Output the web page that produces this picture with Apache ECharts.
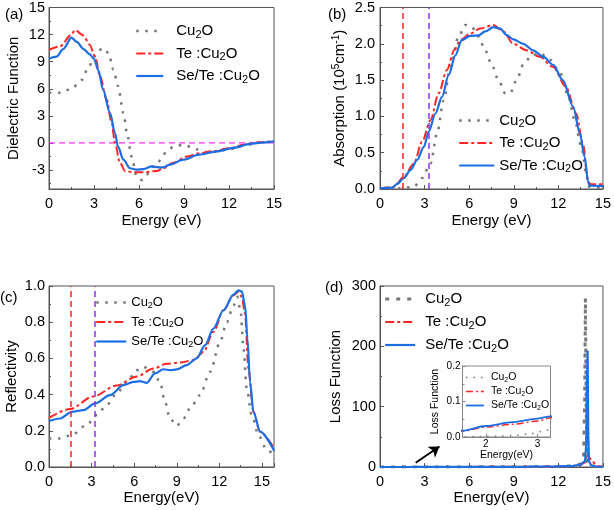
<!DOCTYPE html>
<html><head><meta charset="utf-8">
<script src="https://cdn.jsdelivr.net/npm/echarts@6/dist/echarts.min.js"></script>
<style>html,body{margin:0;padding:0;background:#fff}#c{width:614px;height:510px}</style>
</head><body><div id="c"></div><script>
// ---------- data ----------
const seriesNames = ['Cu2O', 'Te :Cu2O', 'Se/Te :Cu2O'];
const bandEdges = [1.55, 3.25];
const energyRange = [0, 15];
const zeroLevel = 0;
const dielTicks = [-3, 0, 3, 6, 9, 12, 15];
const arrowFrom = [2.4, 7];
const arrowTo = [4.0, 34];

// (a) dielectric function
const dielE_cu = [0, 0.73, 1.5, 2.2, 2.6, 3.07, 3.55, 3.96, 4.3, 4.6, 4.96, 5.2, 5.5, 5.85, 6.2, 6.5, 7.2, 7.8, 8.3, 8.95, 9.4, 9.85, 10.5, 11.2, 12.0, 13.0, 14.0, 15.0];
const dielV_cu = [5.55, 5.55, 6.0, 7.0, 8.3, 9.6, 10.5, 10.0, 8.1, 6.3, 3.3, 1.1, -1.5, -3.7, -4.1, -3.5, -2.2, -1.1, -0.4, -0.2, -0.4, -0.7, -1.0, -0.95, -0.7, -0.3, 0.05, 0.15];
const dielE_te = [0, 0.73, 1.5, 1.73, 2.3, 2.7, 3.07, 3.4, 3.84, 4.18, 4.4, 4.73, 5.07, 5.6, 6.3, 7.2, 7.6, 8.3, 9.2, 10.0, 11.0, 12.0, 13.0, 14.0, 15.0];
const dielV_te = [10.3, 10.7, 12.0, 12.5, 11.9, 10.9, 9.6, 7.4, 4.8, 2.2, 0, -2.2, -3.1, -3.25, -3.25, -3.1, -2.8, -2.2, -1.5, -1.15, -0.9, -0.6, -0.2, 0.08, 0.18];
const dielE_se = [0, 0.5, 0.95, 1.5, 1.85, 2.3, 2.73, 3.0, 3.3, 3.6, 4.07, 4.4, 4.6, 4.96, 5.4, 5.85, 6.3, 6.84, 7.3, 7.6, 8.07, 8.96, 10.0, 11.2, 12.3, 13.4, 14.3, 15.0];
const dielV_se = [9.33, 9.55, 10.4, 11.67, 11.2, 10.4, 9.8, 9.3, 8.0, 5.9, 3.3, 1.1, -0.4, -1.85, -2.8, -2.96, -2.9, -2.6, -2.7, -2.7, -2.4, -1.85, -1.3, -0.93, -0.55, -0.1, 0.07, 0.18];

// (b) absorption (10^5 cm^-1)
const absE_cu = [0, 1.38, 2.28, 2.83, 3.4, 3.84, 4.28, 4.73, 5.29, 5.74, 6.18, 6.63, 7.08, 7.52, 7.97, 8.42, 8.75, 9.2, 9.64, 10.2, 10.76, 11.43, 12.1, 12.66, 13.1, 13.55, 13.88, 14.06, 15.0];
const absV_cu = [0, 0.01, 0.03, 0.15, 0.35, 0.77, 1.22, 1.68, 2.1, 2.26, 2.23, 2.1, 1.91, 1.71, 1.5, 1.32, 1.32, 1.5, 1.71, 1.84, 1.87, 1.78, 1.61, 1.29, 0.95, 0.58, 0.22, 0.03, 0.01];
const absE_te = [0, 0.94, 1.6, 2.28, 2.83, 3.4, 3.95, 4.5, 5.0, 5.4, 6.07, 6.74, 7.63, 8.3, 8.97, 9.87, 10.76, 11.65, 12.5, 13.2, 13.65, 14.0, 14.2, 15.0];
const absV_te = [0.01, 0.03, 0.17, 0.35, 0.65, 0.95, 1.32, 1.64, 1.91, 2.05, 2.14, 2.21, 2.26, 2.17, 2.0, 1.91, 1.82, 1.68, 1.41, 1.04, 0.63, 0.1, 0.065, 0.065];
const absE_se = [0, 0.83, 1.16, 1.6, 2.05, 2.5, 2.95, 3.28, 3.73, 4.17, 4.62, 5.07, 5.5, 6.07, 6.63, 7.08, 7.63, 8.08, 8.53, 8.97, 9.64, 10.3, 11.0, 11.65, 12.3, 13.0, 13.44, 13.77, 14.0, 14.1, 15.0];
const absV_se = [0.01, 0.02, 0.07, 0.15, 0.26, 0.4, 0.58, 0.79, 1.04, 1.27, 1.57, 1.84, 2.05, 2.11, 2.115, 2.17, 2.23, 2.21, 2.12, 2.06, 2.0, 1.91, 1.82, 1.71, 1.5, 1.13, 0.77, 0.44, 0.1, 0.046, 0.04];

// (c) reflectivity
const refE_cu = [0, 0.78, 1.6, 2.65, 3.36, 4.06, 4.77, 5.47, 6.18, 6.65, 7.35, 7.82, 8.17, 8.53, 9.0, 9.47, 9.94, 10.64, 11.35, 12.05, 12.52, 13.0, 13.27, 13.5, 13.7, 13.93, 14.28, 14.75, 15.34, 15.86];
const refV_cu = [0.158, 0.158, 0.176, 0.232, 0.287, 0.342, 0.406, 0.47, 0.535, 0.553, 0.526, 0.47, 0.36, 0.268, 0.228, 0.268, 0.324, 0.397, 0.526, 0.69, 0.80, 0.893, 0.94, 0.857, 0.654, 0.434, 0.287, 0.176, 0.094, 0.066];
const refE_te = [0, 1.48, 3.12, 4.77, 6.18, 7.35, 8.29, 9.23, 10.17, 10.88, 11.58, 12.29, 13.0, 13.34, 13.58, 13.81, 14.05, 14.4, 14.87, 15.86];
const refV_te = [0.272, 0.32, 0.39, 0.45, 0.50, 0.544, 0.57, 0.577, 0.59, 0.636, 0.746, 0.866, 0.949, 0.967, 0.94, 0.847, 0.544, 0.305, 0.195, 0.103];
const refE_se = [0, 0.78, 1.6, 2.42, 3.24, 4.3, 5.24, 5.94, 6.41, 6.88, 7.47, 8.06, 8.53, 9.0, 9.7, 10.4, 11.0, 11.58, 12.29, 13.0, 13.34, 13.58, 13.81, 13.98, 14.16, 14.4, 14.87, 15.86];
const refV_se = [0.254, 0.268, 0.305, 0.314, 0.351, 0.397, 0.452, 0.47, 0.474, 0.465, 0.517, 0.54, 0.535, 0.539, 0.563, 0.6, 0.673, 0.765, 0.866, 0.952, 0.976, 0.97, 0.893, 0.71, 0.47, 0.305, 0.195, 0.09];

// (d) loss function
const lossE_cu = [0, 1.55, 2.2, 2.6, 2.85, 3.1, 3.25, 4, 6, 8, 10, 12, 13, 13.5, 13.7, 13.77, 13.82, 13.87, 13.92, 14.0, 14.5, 15];
const lossV_cu = [0, 0, 0.002, 0.005, 0.009, 0.016, 0.022, 0.05, 0.2, 0.4, 0.6, 1.0, 2, 5, 15, 110, 280, 110, 15, 3, 0.5, 0.2];
const lossE_te = [0, 1.55, 2.0, 2.52, 3.0, 3.25, 4, 6, 8, 10, 12, 13, 13.5, 13.8, 13.9, 13.97, 14.05, 14.2, 14.35, 14.5, 14.65, 15];
const lossV_te = [0.005, 0.017, 0.028, 0.036, 0.045, 0.054, 0.07, 0.18, 0.3, 0.45, 0.8, 1.8, 3.5, 8, 18, 25, 17, 12, 8, 4, 1.5, 0.5];
const lossE_se = [0, 1.55, 2.0, 2.52, 3.0, 3.25, 4, 6, 8, 10, 12, 13, 13.5, 13.8, 13.88, 13.93, 13.97, 14.01, 14.06, 14.2, 14.5, 15];
const lossV_se = [0.005, 0.018, 0.031, 0.042, 0.052, 0.058, 0.08, 0.2, 0.35, 0.5, 0.9, 2, 4, 10, 40, 150, 193, 60, 10, 3, 0.8, 0.3];

// ---------- styles ----------
const FONT = '"Liberation Sans", Arial, sans-serif';
const AX = '#555';
const GRAY = '#777777', RED = '#ff2525', BLUE = '#1c6fe3', PURPLE = '#9030f0', MAGENTA = '#ff30ff';
const dotStyle = {color: GRAY, width: 2.5, type: [2.5, 6.5]};
const dashDot = {color: RED, width: 2, type: [9, 3, 3, 3]};
const solid = {color: BLUE, width: 2.2, type: 'solid'};
const grayDash = {color: GRAY, width: 3, type: [4, 7]};
const insetDot = {color: GRAY, width: 1.5, type: [1.5, 6]};
const insetDashDot = {color: RED, width: 1.5, type: [7, 3, 2, 3]};
const insetSolid = {color: BLUE, width: 1.8, type: 'solid'};

const pair = (E, V) => E.map((e, i) => [e, V[i]]);

function xAxis(g, o) {
  return Object.assign({
    type: 'value', gridIndex: g, min: 0, max: 15, interval: 3,
    axisLine: {show: true, onZero: false, lineStyle: {color: AX, width: 1}},
    axisTick: {show: true, inside: true, length: 4, lineStyle: {color: AX}},
    minorTick: {show: true, splitNumber: 2, length: 2, lineStyle: {color: AX}},
    splitLine: {show: false},
    axisLabel: {color: '#000', fontSize: 14.5, fontFamily: FONT, margin: 7},
    nameLocation: 'middle', nameGap: 23,
    nameTextStyle: {color: '#000', fontSize: 15, fontFamily: FONT}
  }, o);
}
function yAxis(g, o) {
  return Object.assign({
    type: 'value', gridIndex: g,
    axisLine: {show: true, onZero: false, lineStyle: {color: AX, width: 1}},
    axisTick: {show: true, inside: true, length: 4, lineStyle: {color: AX}},
    minorTick: {show: true, splitNumber: 2, length: 2, lineStyle: {color: AX}},
    splitLine: {show: false},
    axisLabel: {color: '#000', fontSize: 14.5, fontFamily: FONT, margin: 4},
    nameLocation: 'middle', nameGap: 30,
    nameTextStyle: {color: '#000', fontSize: 15, fontFamily: FONT}
  }, o);
}
function line(name, g, data, ls, extra) {
  return Object.assign({
    name, type: 'line', xAxisIndex: g, yAxisIndex: g, data,
    symbol: 'none', smooth: 0.3, smoothMonotone: 'x', color: ls.color,
    lineStyle: ls, z: 3, silent: true, animation: false
  }, extra || {});
}
const vLines = {
  silent: true, symbol: ['none', 'none'], label: {show: false}, animation: false,
  data: [
    {xAxis: bandEdges[0], lineStyle: {color: RED, type: [6, 4], width: 1.5}},
    {xAxis: bandEdges[1], lineStyle: {color: PURPLE, type: [6, 4], width: 1.5}}
  ]
};
function legend(left, top, font, itemW, gap, rowSpacing, styles) {
  const sub = Math.round(font * 0.7), pad = Math.round(font * 0.45);
  const h = (sub + pad > font ? sub + pad : font) - 1.5;
  const st = styles || [dotStyle, dashDot, solid];
  return {
    orient: 'vertical', left, top, padding: 0, selectedMode: false,
    itemWidth: itemW, itemHeight: 8, itemGap: rowSpacing - h,
    textStyle: {color: '#000', fontSize: font, fontFamily: FONT, padding: [0, 0, 0, gap],
      rich: {s: {fontSize: sub, fontFamily: FONT, color: '#000', padding: [pad, 0, 0, 0]}}},
    formatter: n => n.replace('Cu2O', 'Cu{s|2}O'),
    data: seriesNames.map((n, i) => ({name: n, lineStyle: st[i], itemStyle: {opacity: 0}}))
  };
}

const option = {
  backgroundColor: '#fff',
  animation: false,
  grid: [
    {left: 49, top: 7, width: 225, height: 182, show: true, borderColor: AX, borderWidth: 1},
    {left: 380, top: 7, width: 224, height: 182, show: true, borderColor: AX, borderWidth: 1},
    {left: 49, top: 286, width: 225, height: 181, show: true, borderColor: AX, borderWidth: 1},
    {left: 380, top: 286, width: 224, height: 181, show: true, borderColor: AX, borderWidth: 1},
    {left: 462.5, top: 366, width: 88, height: 71, show: true, borderColor: '#888', borderWidth: 1, backgroundColor: '#fff', z: 5}
  ],
  xAxis: [
    xAxis(0, {name: 'Energy (eV)', nameGap: 24}),
    xAxis(1, {name: 'Energy (eV)', nameGap: 24}),
    xAxis(2, {name: 'Energy(eV)', nameGap: 14, max: 15.85, axisLabel: {color: '#000', fontSize: 14.5, fontFamily: FONT, margin: 7, showMaxLabel: false}}),
    xAxis(3, {name: 'Energy(eV)', nameGap: 14}),
    xAxis(4, {name: 'Energy(eV)', min: bandEdges[0], max: bandEdges[1], interval: 1, nameGap: 8, z: 6,
      axisLine: {show: true, onZero: false, lineStyle: {color: '#888'}},
      axisTick: {show: true, inside: true, length: 3, lineStyle: {color: '#888'}, customValues: [2, 3]},
      minorTick: {show: false},
      axisLabel: {color: '#000', fontSize: 10, fontFamily: FONT, margin: 2, customValues: [2, 3]},
      nameTextStyle: {color: '#000', fontSize: 10.5, fontFamily: FONT}})
  ],
  yAxis: [
    yAxis(0, {name: 'Dielectric Function', nameGap: 28, min: -5.1, max: 15, splitNumber: 7,
      axisTick: {show: true, inside: true, length: 4, lineStyle: {color: AX}, customValues: dielTicks},
      axisLabel: {color: '#000', fontSize: 14.5, fontFamily: FONT, margin: 4, customValues: dielTicks}}),
    yAxis(1, {name: 'Absorption (10{p|5}cm{p|-1})', nameGap: 32, min: 0, max: 2.5, interval: 0.5,
      axisLabel: {color: '#000', fontSize: 14.5, fontFamily: FONT, margin: 5, formatter: v => v.toFixed(1)},
      nameTextStyle: {color: '#000', fontSize: 15, fontFamily: FONT,
        rich: {p: {fontSize: 10, fontFamily: FONT, color: '#000', padding: [0, 0, 7, 0]}}}}),
    yAxis(2, {name: 'Reflectivity', nameGap: 30, min: 0, max: 1, interval: 0.2,
      axisLabel: {color: '#000', fontSize: 14.5, fontFamily: FONT, margin: 4, formatter: v => v.toFixed(1)}}),
    yAxis(3, {name: 'Loss Function', nameGap: 37, min: 0, max: 300, interval: 100}),
    yAxis(4, {name: 'Loss Function', nameGap: 22, min: 0, max: 0.2, interval: 0.1, z: 6,
      axisLine: {show: true, onZero: false, lineStyle: {color: '#888'}},
      axisTick: {show: true, inside: true, length: 3, lineStyle: {color: '#888'}},
      minorTick: {show: true, splitNumber: 2, length: 2, lineStyle: {color: '#888'}},
      axisLabel: {color: '#000', fontSize: 10, fontFamily: FONT, margin: 2, formatter: v => v.toFixed(1)},
      nameTextStyle: {color: '#000', fontSize: 10.5, fontFamily: FONT}})
  ],
  legend: [
    legend(135, 23.5, 15, 27, 8, 22.5),
    legend(458, 113, 15, 35, 0, 22.5),
    legend(95, 296, 13, 30, 0, 19),
    legend(383.7, 291.5, 15, 30, 5, 23, [grayDash, dashDot, solid]),
    Object.assign(legend(465, 372, 10.5, 18, 2, 13, [insetDot, insetDashDot, insetSolid]), {z: 7})
  ],
  series: [
    {name: 'zero', type: 'line', xAxisIndex: 0, yAxisIndex: 0, symbol: 'none', silent: true, z: 2,
      data: energyRange.map(e => [e, zeroLevel]), color: MAGENTA,
      lineStyle: {color: MAGENTA, width: 1.2, type: [6, 4]}},
    line(seriesNames[0], 0, pair(dielE_cu, dielV_cu), dotStyle),
    line(seriesNames[1], 0, pair(dielE_te, dielV_te), dashDot),
    line(seriesNames[2], 0, pair(dielE_se, dielV_se), solid),

    line(seriesNames[0], 1, pair(absE_cu, absV_cu), dotStyle, {markLine: vLines}),
    line(seriesNames[1], 1, pair(absE_te, absV_te), dashDot),
    line(seriesNames[2], 1, pair(absE_se, absV_se), solid),

    line(seriesNames[0], 2, pair(refE_cu, refV_cu), dotStyle, {markLine: vLines}),
    line(seriesNames[1], 2, pair(refE_te, refV_te), dashDot),
    line(seriesNames[2], 2, pair(refE_se, refV_se), solid),

    line(seriesNames[0], 3, pair(lossE_cu, lossV_cu), grayDash, {smooth: false}),
    line(seriesNames[1], 3, pair(lossE_te, lossV_te), dashDot, {smooth: false}),
    line(seriesNames[2], 3, pair(lossE_se, lossV_se), solid, {smooth: false,
      markLine: {silent: true, symbol: ['none', 'arrow'], symbolSize: 10, label: {show: false}, animation: false,
        lineStyle: {color: '#000', width: 2, type: 'solid'},
        data: [[{coord: arrowFrom}, {coord: arrowTo}]]}}),

    line(seriesNames[0], 4, pair(lossE_cu, lossV_cu), insetDot, {z: 8}),
    line(seriesNames[1], 4, pair(lossE_te, lossV_te), insetDashDot, {z: 8}),
    line(seriesNames[2], 4, pair(lossE_se, lossV_se), insetSolid, {z: 8})
  ],
  graphic: [
    {type: 'text', left: 5, top: 7, style: {text: '(a)', fontSize: 15, fontFamily: FONT, fill: '#000'}},
    {type: 'text', left: 328, top: 7, style: {text: '(b)', fontSize: 15, fontFamily: FONT, fill: '#000'}},
    {type: 'text', left: 0, top: 290, style: {text: '(c)', fontSize: 15, fontFamily: FONT, fill: '#000'}},
    {type: 'text', left: 325, top: 280, style: {text: '(d)', fontSize: 15, fontFamily: FONT, fill: '#000'}}
  ]
};
const chart = echarts.init(document.getElementById('c'), null, {renderer: 'canvas'});
chart.setOption(option);
</script></body></html>
